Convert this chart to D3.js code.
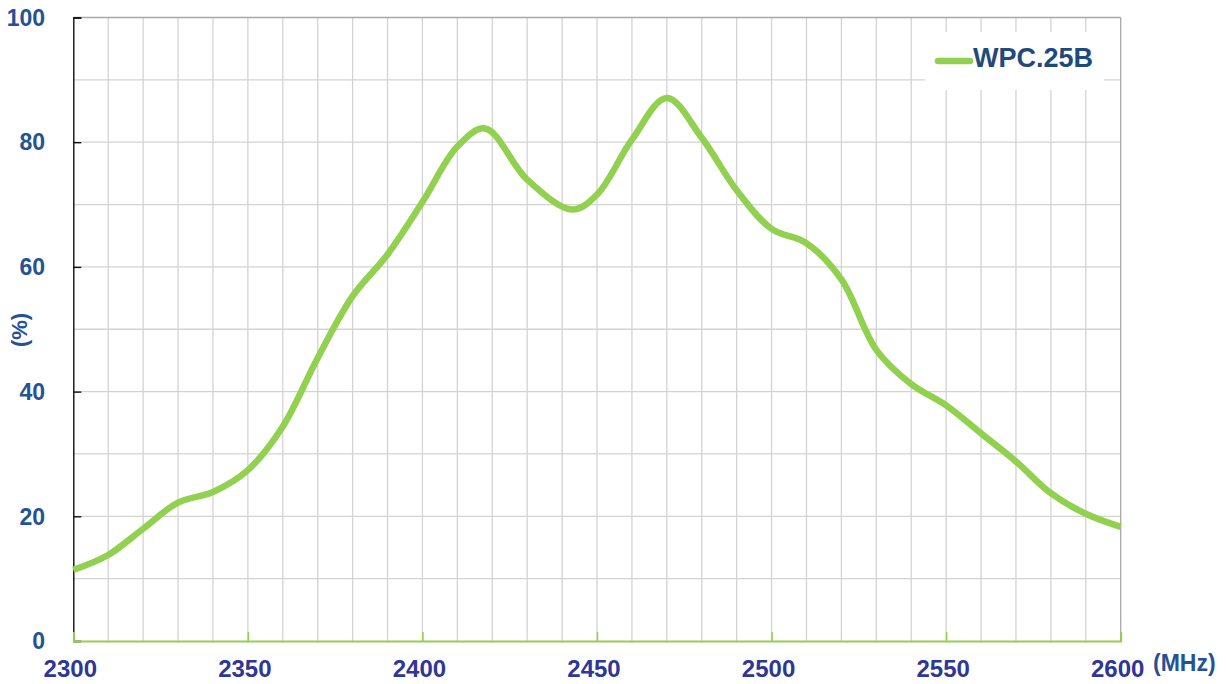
<!DOCTYPE html>
<html>
<head>
<meta charset="utf-8">
<script src="https://cdn.jsdelivr.net/npm/d3@7"></script>
<style>
  html, body { margin: 0; padding: 0; background: #fff; }
  svg { display: block; }
  text { font-family: "Liberation Sans", Arial, sans-serif; font-weight: bold; }
</style>
</head>
<body>
<svg id="chart" width="1229" height="684"></svg>
<script>
// ---- data ----
const freqs = [2300, 2310, 2320, 2330, 2340, 2350, 2360, 2370, 2380, 2390, 2400, 2410, 2418, 2430, 2443, 2450, 2460, 2470, 2480, 2490, 2500, 2510, 2520, 2530, 2540, 2550, 2560, 2570, 2580, 2590, 2600];
const efficiency = [11.4, 13.8, 18.0, 22.2, 23.9, 27.4, 34.4, 45.4, 55.3, 62.0, 70.4, 79.3, 82.2, 74.0, 69.2, 71.6, 80.4, 87.1, 80.7, 72.3, 66.1, 63.8, 58.0, 46.7, 41.2, 37.8, 33.3, 28.8, 23.7, 20.4, 18.3];
const seriesName = "WPC.25B";
const xTickLabels = [2300, 2350, 2400, 2450, 2500, 2550, 2600];
const yTickLabels = [0, 20, 40, 60, 80, 100];
const xUnit = "(MHz)";
const yUnit = "(%)";

(function () {
// ---- layout ----
const pLeft = 73.3, pRight = 1120.7, pTop = 17.5, pBottom = 641;
const svg = d3.select("#chart");
const x = d3.scaleLinear().domain([2300, 2600]).range([pLeft, pRight]);
const y = d3.scaleLinear().domain([0, 100]).range([pBottom, pTop]);

const green = "#92D050";
const grid = "#d3d3d3";

// gridlines
const g = svg.append("g");
g.selectAll("line.v").data(d3.range(2310, 2600, 10)).join("line")
  .attr("class", "v")
  .attr("x1", d => x(d)).attr("x2", d => x(d))
  .attr("y1", pTop).attr("y2", pBottom)
  .attr("stroke", grid).attr("stroke-width", 1.3);
g.selectAll("line.h").data(d3.range(10, 100, 10)).join("line")
  .attr("class", "h")
  .attr("x1", pLeft).attr("x2", pRight)
  .attr("y1", d => y(d)).attr("y2", d => y(d))
  .attr("stroke", grid).attr("stroke-width", 1.3);
// top and right border
svg.append("line").attr("x1", pLeft).attr("x2", pRight).attr("y1", pTop).attr("y2", pTop)
  .attr("stroke", "#a8a8a8").attr("stroke-width", 1.3);
svg.append("line").attr("x1", pRight).attr("x2", pRight).attr("y1", pTop).attr("y2", pBottom)
  .attr("stroke", "#a8a8a8").attr("stroke-width", 1.3);

// legend box (white, covers grid)
svg.append("rect").attr("x", 925).attr("y", 32).attr("width", 179).attr("height", 58)
  .attr("fill", "#fff");

// left axis
const yAxis = d3.axisRight(y).tickValues(yTickLabels).tickSize(8).tickFormat("");
const ya = svg.append("g").attr("transform", `translate(${pLeft},0)`).call(yAxis);
ya.select(".domain").attr("stroke", "#111").attr("stroke-width", 1.4);
ya.selectAll(".tick line").attr("stroke", "#111").attr("stroke-width", 1.4);

// bottom axis
const xAxis = d3.axisTop(x).tickValues(xTickLabels).tickSize(9).tickFormat("");
const xa = svg.append("g").attr("transform", `translate(0,${pBottom})`).call(xAxis);
xa.select(".domain").attr("stroke", green).attr("stroke-width", 1.8);
xa.selectAll(".tick line").attr("stroke", green).attr("stroke-width", 1.5);

// y labels
svg.selectAll("text.ylab").data(yTickLabels).join("text")
  .attr("class", "ylab")
  .attr("x", 45).attr("y", d => y(d)).attr("dy", "0.36em")
  .attr("text-anchor", "end").attr("font-size", 23).attr("fill", "#245294")
  .text(d => d);

// x labels
svg.selectAll("text.xlab").data(xTickLabels).join("text")
  .attr("class", "xlab")
  .attr("x", d => x(d) - 3).attr("y", 677)
  .attr("text-anchor", "middle").attr("font-size", 24).attr("fill", "#2f3699")
  .text(d => d);

// unit labels
svg.append("text").attr("x", 1153).attr("y", 671).attr("font-size", 23)
  .attr("fill", "#245294").text(xUnit);
svg.append("text").attr("transform", "translate(27,330) rotate(-90)")
  .attr("text-anchor", "middle").attr("font-size", 22)
  .attr("fill", "#245294").text(yUnit);

// curve
const pts = freqs.map((f, i) => [f, efficiency[i]]);
const line = d3.line().x(d => x(d[0])).y(d => y(d[1])).curve(d3.curveCatmullRom.alpha(0.5));
svg.append("path").datum(pts).attr("d", line)
  .attr("fill", "none").attr("stroke", green).attr("stroke-width", 6.5)
  .attr("stroke-linejoin", "round").attr("stroke-linecap", "butt");

// legend
svg.append("line").attr("x1", 938).attr("x2", 970).attr("y1", 61).attr("y2", 61)
  .attr("stroke", green).attr("stroke-width", 6.5).attr("stroke-linecap", "round");
svg.append("text").attr("x", 973).attr("y", 67).attr("font-size", 27)
  .attr("fill", "#1f4a7c").text(seriesName);
})();
</script>
</body>
</html>
